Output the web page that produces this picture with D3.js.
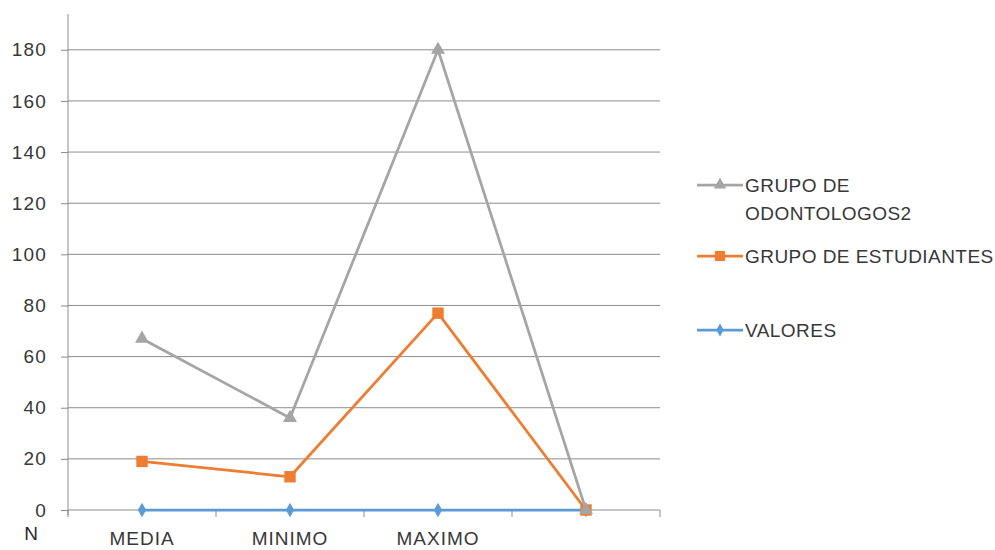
<!DOCTYPE html>
<html>
<head>
<meta charset="utf-8">
<script src="https://cdn.jsdelivr.net/npm/d3@7"></script>
<style>
  html, body { margin: 0; padding: 0; background: #fff; }
  svg { display: block; font-family: "Liberation Sans", Arial, sans-serif; }
</style>
</head>
<body>
<svg id="chart" width="995" height="550"></svg>
<script>
// Categories on the x axis (the fourth slot has no label)
const categories = ["MEDIA", "MINIMO", "MAXIMO", ""];
// Series values per category
const odontologos = [67, 36, 180, 0];
const estudiantes = [19, 13, 77, 0];
const valores = [0, 0, 0, 0];
// Y axis tick labels
const yTicks = [0, 20, 40, 60, 80, 100, 120, 140, 160, 180];
const yMax = 194;

const series = [
  { name: ["GRUPO DE", "ODONTOLOGOS2"], values: odontologos, color: "#A5A5A5", symbol: d3.symbolTriangle, size: 85 },
  { name: ["GRUPO DE ESTUDIANTES"], values: estudiantes, color: "#ED7D31", symbol: d3.symbolSquare, size: 130 },
  { name: ["VALORES"], values: valores, color: "#5B9BD5", symbol: d3.symbolDiamond, size: 60 }
];

const svg = d3.select("#chart");
const plot = { left: 68, right: 660, top: 14, bottom: 510 };
const textColor = "#383838";
const fontSize = 19;

const x = d3.scaleBand().domain(categories).range([plot.left, plot.right]);
const y = d3.scaleLinear().domain([0, yMax]).range([plot.bottom, plot.top]);

const gridColor = "#8C8C8C";

// Horizontal gridlines
svg.append("g")
  .selectAll("line")
  .data(yTicks)
  .join("line")
  .attr("x1", plot.left).attr("x2", plot.right)
  .attr("y1", d => y(d)).attr("y2", d => y(d))
  .attr("stroke", gridColor).attr("stroke-width", 1);

// Y axis
const yAxis = svg.append("g")
  .attr("transform", `translate(${plot.left},0)`)
  .call(d3.axisLeft(y).tickValues(yTicks).tickSize(7).tickPadding(14));
yAxis.select(".domain").attr("stroke", gridColor).attr("d", `M0,${y(yMax)}V${plot.bottom + 5}`);
yAxis.selectAll(".tick line").attr("stroke", gridColor);
yAxis.selectAll(".tick text")
  .attr("fill", textColor).attr("font-size", fontSize)
  .attr("letter-spacing", 1.2)
  .attr("font-family", "'Liberation Sans', Arial, sans-serif");

// X axis
const xAxis = svg.append("g")
  .attr("transform", `translate(0,${plot.bottom})`)
  .call(d3.axisBottom(x).tickSize(0).tickPadding(22));
xAxis.select(".domain").remove();
xAxis.selectAll(".tick text")
  .attr("fill", textColor).attr("font-size", fontSize)
  .attr("letter-spacing", 1)
  .attr("font-family", "'Liberation Sans', Arial, sans-serif");

// Category boundary tick marks
const bounds = categories.map(c => x(c)).concat([plot.right]);
svg.append("g")
  .selectAll("line")
  .data(bounds)
  .join("line")
  .attr("x1", d => d).attr("x2", d => d)
  .attr("y1", plot.bottom).attr("y2", plot.bottom + 7)
  .attr("stroke", gridColor);

// Stray axis label under the y axis
svg.append("text")
  .attr("x", 31).attr("y", 540)
  .attr("text-anchor", "middle")
  .attr("font-size", fontSize)
  .attr("fill", "#2a2a2a")
  .text("N");

const cx = (d, i) => x(categories[i]) + x.bandwidth() / 2;
const line = d3.line().x((d, i) => cx(d, i)).y(d => y(d));

// Lines and markers, drawn so that the blue series sits at the back
const drawOrder = [series[2], series[1], series[0]];
drawOrder.forEach(s => {
  const g = svg.append("g");
  g.append("path")
    .datum(s.values)
    .attr("d", line)
    .attr("fill", "none")
    .attr("stroke", s.color)
    .attr("stroke-width", 2.75)
    .attr("stroke-linejoin", "round");
  g.selectAll("path.marker")
    .data(s.values)
    .join("path")
    .attr("class", "marker")
    .attr("transform", (d, i) => `translate(${cx(d, i)},${y(d)})`)
    .attr("d", d3.symbol(s.symbol, s.size))
    .attr("fill", s.color);
});

// Legend
const legendX = 697;
const legendRows = [185, 256, 330];
series.forEach((s, i) => {
  const g = svg.append("g").attr("transform", `translate(${legendX},${legendRows[i]})`);
  g.append("line")
    .attr("x1", 0).attr("x2", 46)
    .attr("y1", 0).attr("y2", 0)
    .attr("stroke", s.color).attr("stroke-width", 2.75);
  g.append("path")
    .attr("transform", "translate(23,0)")
    .attr("d", d3.symbol(s.symbol, s.size * 0.8))
    .attr("fill", s.color);
  s.name.forEach((t, j) => {
    g.append("text")
      .attr("x", 48).attr("y", j * 28)
      .attr("dy", "0.35em")
      .attr("font-size", fontSize)
      .attr("fill", textColor)
      .attr("letter-spacing", 0.45)
      .text(t);
  });
});
</script>
</body>
</html>
